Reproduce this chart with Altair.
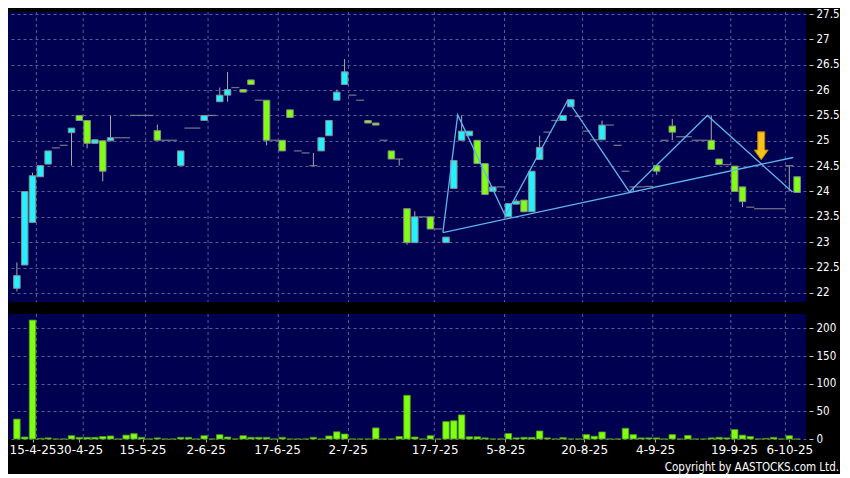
import altair as alt
import pandas as pd

# ---------------- data ----------------
opens = [22.09, 22.55, 23.39, 24.29, 24.54, 24.86, 24.91, 25.16, 25.50, 25.40,
         24.95, 25.00, 25.00, 25.06, 25.06, 25.50, 25.50, 25.50, 25.20, 25.01,
         25.01, 24.51, 25.25, 25.25, 25.40, 25.50, 25.77, 25.90, 26.05, 26.01,
         26.20, 25.80, 25.80, 25.01, 25.01, 25.61, 24.80, 24.76, 24.51, 24.80,
         25.10, 25.80, 26.11, 25.90, 25.80, 25.40, 25.35, 25.01, 24.80, 24.64,
         23.66, 22.99, 23.50, 23.50, 23.26, 22.99, 24.06, 25.01, 25.10, 25.01,
         24.55, 24.00, 24.09, 23.50, 23.75, 23.83, 23.60, 24.63, 25.17, 25.40,
         25.40, 25.67, 25.48, 25.19, 25.02, 25.02, 25.31, 24.91, 24.40, 24.09,
         24.09, 24.10, 24.51, 25.01, 25.29, 25.08, 25.08, 25.01, 25.01, 25.01,
         24.64, 24.53, 24.50, 24.09, 23.69, 23.66, 23.66, 23.66, 23.66, 24.51,
         24.29]
closes = [22.34, 24.00, 24.31, 24.51, 24.80, 24.86, 24.91, 25.25, 25.40, 24.95,
          25.02, 24.40, 25.06, 25.06, 25.06, 25.50, 25.50, 25.50, 25.01, 25.01,
          25.01, 24.80, 25.25, 25.25, 25.50, 25.50, 25.90, 26.01, 26.05, 25.96,
          26.11, 25.80, 25.01, 25.01, 24.80, 25.46, 24.80, 24.76, 24.51, 25.06,
          25.40, 25.96, 26.36, 25.90, 25.80, 25.35, 25.31, 25.01, 24.64, 24.64,
          22.99, 23.50, 23.50, 23.26, 23.26, 23.10, 24.61, 25.19, 25.19, 24.55,
          23.94, 24.09, 24.09, 23.76, 23.81, 23.60, 24.40, 24.87, 25.17, 25.40,
          25.50, 25.81, 25.48, 25.19, 25.02, 25.31, 25.31, 24.91, 24.40, 24.09,
          24.09, 24.10, 24.40, 25.01, 25.17, 25.08, 25.08, 25.01, 25.01, 24.83,
          24.53, 24.53, 24.00, 23.80, 23.69, 23.66, 23.66, 23.66, 23.66, 24.51,
          23.98]
highs = [22.60, 24.00, 24.37, 24.51, 24.80, 24.86, 24.91, 25.25, 25.50, 25.40,
         25.02, 25.00, 25.50, 25.06, 25.06, 25.50, 25.50, 25.50, 25.32, 25.01,
         25.01, 24.80, 25.25, 25.25, 25.50, 25.50, 26.05, 26.36, 26.05, 26.01,
         26.20, 25.80, 25.80, 25.01, 25.01, 25.61, 24.80, 24.76, 24.76, 25.06,
         25.40, 26.01, 26.61, 25.90, 25.80, 25.40, 25.35, 25.01, 24.80, 24.64,
         23.66, 23.61, 23.50, 23.50, 23.26, 23.10, 24.61, 25.50, 25.19, 25.01,
         24.55, 24.09, 24.09, 23.76, 23.85, 23.83, 24.40, 25.10, 25.17, 25.40,
         25.50, 25.81, 25.48, 25.19, 25.02, 25.40, 25.31, 24.91, 24.40, 24.09,
         24.09, 24.10, 24.51, 25.01, 25.43, 25.08, 25.08, 25.01, 25.01, 25.50,
         24.64, 24.53, 24.50, 24.09, 23.69, 23.66, 23.66, 23.66, 23.66, 24.51,
         24.29]
lows = [22.03, 22.55, 23.39, 24.29, 24.54, 24.86, 24.91, 24.51, 25.40, 24.85,
        24.95, 24.20, 25.00, 25.06, 25.06, 25.50, 25.50, 25.50, 25.01, 25.01,
        25.01, 24.51, 25.25, 25.25, 25.40, 25.50, 25.77, 25.77, 26.05, 25.96,
        26.11, 25.80, 24.91, 25.01, 24.80, 25.46, 24.80, 24.76, 24.51, 24.80,
        25.10, 25.80, 26.11, 25.90, 25.80, 25.35, 25.31, 25.01, 24.64, 24.51,
        22.95, 22.99, 23.50, 23.26, 23.26, 22.99, 24.06, 25.01, 25.10, 24.55,
        23.94, 24.00, 24.09, 23.50, 23.75, 23.60, 23.60, 24.63, 25.17, 25.40,
        25.40, 25.67, 25.48, 25.19, 25.02, 25.02, 25.31, 24.91, 24.40, 23.99,
        24.09, 24.10, 24.33, 25.01, 25.01, 25.08, 25.08, 25.01, 25.01, 24.83,
        24.53, 24.53, 24.00, 23.69, 23.69, 23.66, 23.66, 23.66, 23.66, 24.00,
        23.98]
volumes = [36, 3.6, 215, 1, 2, 0, 0, 6, 3, 3,
           3, 4.5, 5.5, 0, 7, 9.6, 3, 0, 2, 0,
           0, 3, 3, 0, 6, 0, 7.8, 3.6, 0, 6,
           3, 3, 3, 0, 3, 0, 0, 0, 3, 0,
           5.5, 13, 9, 0, 0, 0, 20, 0, 0, 4.5,
           79, 3.6, 0, 6, 0, 31.5, 33, 43.6, 4, 4,
           2, 0, 0, 10, 2, 3, 3, 14.5, 2, 0,
           2.5, 0, 0, 8, 5, 12.7, 0, 0, 19.4, 8,
           2, 2, 2, 0, 8, 0, 6.5, 0, 0, 2,
           3, 2, 17, 7, 4.5, 0, 1, 3, 0, 6,
           0]

tick_pos = [2, 8, 16.1, 24.2, 33.35, 42.4, 53.55, 62.6, 72.7, 81.8, 91.9, 99.0]
tick_labels = ["15-4-25", "30-4-25", "15-5-25", "2-6-25", "17-6-25", "2-7-25",
               "17-7-25", "5-8-25", "20-8-25", "4-9-25", "19-9-25", "6-10-25"]
grid_pos = [2.5, 8.5, 16.5, 24.5, 33.5, 42.5, 53.5, 62.5, 72.5, 81.5, 91.5, 98.5]
price_ticks = [22, 22.5, 23, 23.5, 24, 24.5, 25, 25.5, 26, 26.5, 27, 27.5]
vol_ticks = [0, 50, 100, 150, 200]

zigzag_idx = [54.6, 56.5, 62.6, 70.6, 78.5, 88.5, 99.4]
zigzag_px = [23.19, 25.51, 23.52, 25.80, 23.99, 25.50, 23.99]
trend_idx = [54.6, 99.5]
trend_px = [23.19, 24.67]
arrow_idx = [95.4]
arrow_px = [24.90]

# ---------------- styling ----------------
CYAN = "#22f2ff"
GREEN = "#80ff10"
NAVY = "#000050"
GRID = "#5c5c94"
LINE = "#5fb4ec"
FONT = "DejaVu Sans"
NARROW = "DejaVu Sans Condensed, Liberation Sans Narrow, DejaVu Sans"
W = 798

df = pd.DataFrame({"i": list(range(len(opens))), "open": opens, "high": highs,
                   "low": lows, "close": closes, "vol": volumes})
df["dir"] = ["up" if c >= o else "down" for o, c in zip(opens, closes)]

xs = alt.Scale(domain=[-0.5, 100.5], nice=False, zero=False)
ys = alt.Scale(domain=[21.82, 27.54], nice=False, zero=False)
vs = alt.Scale(domain=[0, 226], nice=False, zero=False)

grid_df = pd.DataFrame({"g": grid_pos})

yaxis = alt.Axis(orient="right", values=price_ticks, format=".1~f", grid=True,
                 gridColor=GRID, gridDash=[3, 3], gridWidth=1, domain=False,
                 tickColor="#c8c8c8", tickSize=4, offset=3, labelPadding=3,
                 labelOverlap=False, labelColor="white", labelFont=NARROW,
                 labelFontSize=11.5, title=None)
vaxis = alt.Axis(orient="right", values=vol_ticks, grid=True,
                 gridColor=GRID, gridDash=[3, 3], gridWidth=1, domain=False,
                 tickColor="#c8c8c8", tickSize=4, offset=3, labelPadding=3,
                 labelOverlap=False, labelColor="white", labelFont=NARROW,
                 labelFontSize=11.5, title=None)

label_expr = ("[" + ",".join("'%s'" % t for t in tick_labels) + "][indexof(["
              + ",".join(str(p) for p in tick_pos) + "], datum.value)]")
xaxis = alt.Axis(values=tick_pos, labelExpr=label_expr, grid=False, domain=False,
                 tickColor="#aaaaaa", tickSize=3, labelColor="white", labelFont=FONT,
                 labelFontSize=12, labelFlush=False, labelOverlap=False,
                 labelPadding=2, title=None)

# ---------------- price panel ----------------
vgrid = alt.Chart(grid_df).mark_rule(color=GRID, strokeDash=[3, 3], strokeWidth=1).encode(
    x=alt.X("g:Q", scale=xs, axis=None))

base = alt.Chart(df)
wicks = base.mark_rule(color="#a8a8a8", strokeWidth=1).encode(
    x=alt.X("i:Q", scale=xs, axis=None),
    y=alt.Y("low:Q", scale=ys, axis=yaxis),
    y2="high:Q")
bodies = base.transform_filter("datum.open != datum.close").mark_bar(
    width=6.5, stroke="#8c8c8c", strokeWidth=1).encode(
    x=alt.X("i:Q", scale=xs, axis=None),
    y=alt.Y("open:Q", scale=ys, axis=yaxis),
    y2="close:Q",
    color=alt.Color("dir:N", scale=alt.Scale(domain=["up", "down"], range=[CYAN, GREEN]),
                    legend=None))
dojis = base.transform_filter("datum.open == datum.close").mark_tick(
    orient="horizontal", size=8, thickness=1.3, color="#9c9c9c").encode(
    x=alt.X("i:Q", scale=xs, axis=None),
    y=alt.Y("open:Q", scale=ys, axis=yaxis))

zz_df = pd.DataFrame({"i": zigzag_idx, "p": zigzag_px, "o": list(range(len(zigzag_idx)))})
zigzag = alt.Chart(zz_df).mark_line(color=LINE, strokeWidth=1.3).encode(
    x=alt.X("i:Q", scale=xs, axis=None), y=alt.Y("p:Q", scale=ys, axis=yaxis),
    order="o:Q")
tr_df = pd.DataFrame({"i": trend_idx, "p": trend_px})
trend = alt.Chart(tr_df).mark_line(color=LINE, strokeWidth=1.3).encode(
    x=alt.X("i:Q", scale=xs, axis=None), y=alt.Y("p:Q", scale=ys, axis=yaxis))

arrow_shape = "M-0.25,-1L0.25,-1L0.25,0.3L0.5,0.3L0,1L-0.5,0.3L-0.25,0.3Z"
ar_df = pd.DataFrame({"i": arrow_idx, "p": arrow_px})
arrow = alt.Chart(ar_df).mark_point(shape=arrow_shape, filled=True, size=784,
                                    fill="#f6c21c", stroke="#c27a00", strokeWidth=1,
                                    opacity=1).encode(
    x=alt.X("i:Q", scale=xs, axis=None), y=alt.Y("p:Q", scale=ys, axis=yaxis))

price = alt.layer(vgrid, wicks, bodies, dojis, zigzag, trend, arrow).properties(
    width=W, height=290)

# ---------------- volume panel ----------------
vgrid2 = alt.Chart(grid_df).mark_rule(color=GRID, strokeDash=[3, 3], strokeWidth=1).encode(
    x=alt.X("g:Q", scale=xs, axis=xaxis))
vbars = base.mark_bar(width=6.5, color=GREEN, stroke="#4c9a12", strokeWidth=0.8).encode(
    x=alt.X("i:Q", scale=xs, axis=xaxis),
    y=alt.Y("vol:Q", scale=vs, axis=vaxis))
volume = alt.layer(vgrid2, vbars).properties(width=W, height=125)

chart = alt.vconcat(price, volume, spacing=10).properties(
    padding=0,
    title=alt.TitleParams("Copyright by AASTOCKS.com Ltd.", orient="bottom", anchor="end",
                          color="white", font=NARROW, fontSize=11.5, fontWeight="normal",
                          offset=7),
).configure(background="black").configure_view(
    fill=NAVY, strokeWidth=0).configure_axis(labelOverlap=False)

chart.save("out.html", embed_options={"renderer": "svg", "actions": False})
